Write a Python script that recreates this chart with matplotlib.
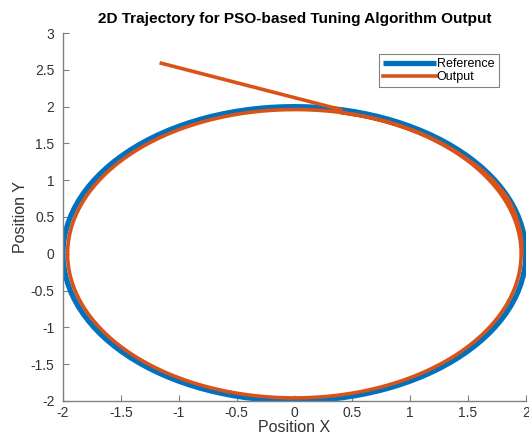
#!/usr/bin/env python3

import matplotlib.pyplot as plt
import numpy as np

plt.rcParams['font.family'] = ['Liberation Sans', 'DejaVu Sans']

# reference path: circle (radius 2, centred at 0)
ref_radius = 2.0
ref_angles_deg = np.arange(0, 361, 3)

# output path: straight approach, then a loop just inside the reference
approach_x = [-1.15, 0.40]
approach_y = [2.59, 1.96]
# (angle in degrees, radius) read along the output loop, clockwise
out_angles_deg = [78, 60, 42, 0, -90, -180, -270, -318, -330, -338, -350, -360]
out_radius     = [1.96, 1.96, 1.96, 1.96, 1.96, 1.96, 1.96, 1.97, 1.985, 1.99, 1.975, 1.965]

xticks = [-2, -1.5, -1, -0.5, 0, 0.5, 1, 1.5, 2]
yticks = [-2, -1.5, -1, -0.5, 0, 0.5, 1, 1.5, 2, 2.5, 3]

blue = '#0072BD'
orange = '#D95319'

fig = plt.figure(figsize=(5.29, 4.41), dpi=100)
ax = fig.add_axes([0.119, 0.091, 0.875, 0.834])

t = np.radians(ref_angles_deg)
ax.plot(ref_radius * np.cos(t), ref_radius * np.sin(t), color=blue, lw=3.8,
        label='Reference', solid_capstyle='butt')

# fine angle grid through the read (angle, radius) pairs for a smooth loop
fine = np.arange(out_angles_deg[0], out_angles_deg[-1] - 1, -2)
r_fine = np.interp(-fine, -np.array(out_angles_deg), out_radius)
tf = np.radians(fine)
out_x = np.concatenate([approach_x, r_fine * np.cos(tf)])
out_y = np.concatenate([approach_y, r_fine * np.sin(tf)])
ax.plot(out_x, out_y, color=orange, lw=2.6, label='Output')

ax.set_xlim(-2, 2)
ax.set_ylim(-2, 3)
ax.set_xticks(xticks)
ax.set_xticklabels([f'{v:g}' for v in xticks])
ax.set_yticks(yticks)
ax.set_yticklabels([f'{v:g}' for v in yticks])

for side in ['top', 'right']:
    ax.spines[side].set_visible(False)
for side in ['left', 'bottom']:
    ax.spines[side].set_color('#808080')
    ax.spines[side].set_linewidth(1.0)
ax.tick_params(direction='in', length=4, width=0.8, color='#808080',
               labelcolor='#333333', labelsize=10)
ax.tick_params(axis='y', pad=6)
ax.tick_params(axis='x', pad=4)

ax.set_xlabel('Position X', fontsize=11.5, color='#333333', labelpad=0)
ax.set_ylabel('Position Y', fontsize=11.5, color='#333333', labelpad=2)
ax.set_title('2D Trajectory for PSO-based Tuning Algorithm Output',
             fontsize=11.1, fontweight='bold', pad=7)

leg = ax.legend(loc='upper right', bbox_to_anchor=(0.955, 0.96), fontsize=9,
                handlelength=4.2, handletextpad=0.1, borderpad=0.35,
                labelspacing=0.05, fancybox=False, framealpha=1)
leg.get_frame().set_edgecolor('#808080')
leg.get_frame().set_linewidth(0.8)

fig.savefig('out.png', dpi=100)
